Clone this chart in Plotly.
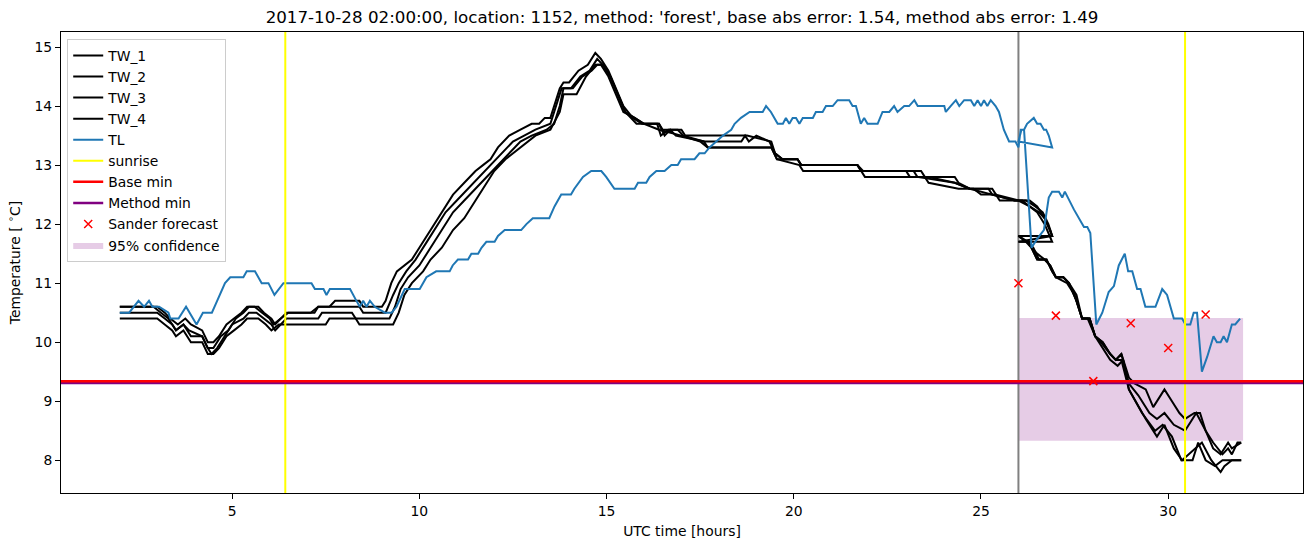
import plotly.graph_objects as go

# ---------------- data ----------------
TITLE = "2017-10-28 02:00:00, location: 1152, method: 'forest', base abs error: 1.54, method abs error: 1.49"

tw1_t = [2.0, 3.0, 3.2, 3.35, 3.55, 3.75, 3.9, 4.2, 4.35, 4.5, 4.65, 4.85, 5.05, 5.25, 5.4, 5.7, 5.85, 6.05, 6.15, 6.3, 6.5, 7.1, 7.3, 7.6, 7.75, 8.4, 8.5, 9.0, 9.1,
         9.25, 9.4, 9.6, 9.8, 10.0, 10.3, 10.5, 10.7, 10.9, 11.2, 11.5, 11.7, 11.9, 12.1, 12.4, 12.7, 13.0, 13.2, 13.35, 13.5, 13.6, 13.75, 13.85, 14.0, 14.25, 14.5, 14.7,
         14.85, 15.05, 15.25, 15.45, 15.7, 15.95, 16.4, 16.5, 17.0, 17.1, 18.6, 18.75, 19.4, 19.5, 19.7, 20.1, 20.2, 21.7, 21.8, 23.4, 23.5, 24.3, 24.4, 24.7, 25.3, 25.4,
         26.0, 26.3, 26.5, 26.7, 26.85, 26.9,
         26.0, 26.25, 26.35, 26.5, 26.7, 26.85, 27.0, 27.2, 27.35, 27.55, 27.7, 27.9, 28.05, 28.25, 28.45, 28.6, 28.75, 28.95, 29.1, 29.4, 29.6, 29.9, 30.1, 30.3,
         30.45, 30.7, 30.85, 31.0, 31.2, 31.45, 31.6, 31.7, 31.85, 31.95]
tw1_v = [10.6, 10.6, 10.5, 10.4, 10.3, 10.4, 10.3, 10.2, 10.0, 10.0, 10.1, 10.3, 10.4, 10.5, 10.6, 10.6, 10.5, 10.4, 10.3, 10.4, 10.5, 10.5, 10.6, 10.6, 10.7, 10.7, 10.6, 10.6, 10.7,
         11.0, 11.2, 11.3, 11.4, 11.6, 11.9, 12.1, 12.3, 12.5, 12.7, 12.9, 13.0, 13.1, 13.3, 13.5, 13.6, 13.7, 13.7, 13.8, 13.8, 14.0, 14.3, 14.4, 14.4, 14.6, 14.7, 14.9,
         14.8, 14.6, 14.3, 14.0, 13.8, 13.7, 13.7, 13.6, 13.6, 13.5, 13.5, 13.5, 13.4, 13.2, 13.1, 13.1, 13.0, 13.0, 12.9, 12.9, 12.8, 12.8, 12.7, 12.6, 12.6, 12.5,
         12.4, 12.4, 12.3, 12.1, 11.9, 11.8,
         11.8, 11.7, 11.6, 11.5, 11.4, 11.3, 11.1, 11.1, 11.0, 10.8, 10.4, 10.4, 10.1, 10.0, 9.8, 9.7, 9.8, 9.4, 9.3, 9.2, 8.9, 9.2, 9.0, 8.8,
         8.7, 8.8, 8.8, 8.5, 8.3, 8.1, 8.2, 8.1, 8.3, 8.3]

tw2_t = [2.0, 2.9, 3.1, 3.3, 3.5, 3.7, 3.85, 4.2, 4.35, 4.5, 4.7, 4.9, 5.1, 5.3, 5.45, 5.6, 5.8, 6.0, 6.1, 6.3, 6.45, 7.2, 7.3, 8.4, 8.5, 9.1,
         9.3, 9.45, 9.65, 9.9, 10.2, 10.5, 10.7, 11.0, 11.3, 11.6, 11.9, 12.2, 12.5, 12.8, 13.1, 13.5, 13.65, 13.8, 14.05, 14.3, 14.55, 14.75,
         14.9, 15.1, 15.3, 15.5, 15.75, 16.0, 16.35, 16.45, 16.65, 16.9, 17.05, 17.6, 18.6, 18.7, 18.8, 19.0, 19.35, 19.5, 19.7, 20.1, 20.2, 21.7, 21.85,
         23.0, 23.1, 23.6, 24.3, 24.7, 25.3, 25.9, 26.2, 26.45, 26.65, 26.8, 26.9,
         26.0, 26.2, 26.35, 26.5, 26.75, 26.9, 27.0, 27.3, 27.5, 27.7, 27.85, 28.05, 28.2, 28.45, 28.6, 28.75, 28.95, 29.2, 29.5, 29.7, 29.9, 30.15,
         30.45, 30.75, 31.0, 31.2, 31.4, 31.6, 31.7, 31.95]
tw2_v = [10.6, 10.6, 10.5, 10.4, 10.2, 10.3, 10.2, 10.1, 9.9, 9.9, 10.1, 10.2, 10.4, 10.5, 10.6, 10.6, 10.5, 10.4, 10.3, 10.4, 10.5, 10.5, 10.6, 10.6, 10.5, 10.5,
         10.8, 11.0, 11.2, 11.4, 11.7, 12.0, 12.2, 12.4, 12.6, 12.8, 13.0, 13.2, 13.4, 13.5, 13.6, 13.7, 14.0, 14.3, 14.3, 14.5, 14.6, 14.8,
         14.7, 14.5, 14.2, 13.9, 13.8, 13.7, 13.7, 13.5, 13.6, 13.6, 13.5, 13.4, 13.4, 13.5, 13.4, 13.5, 13.4, 13.2, 13.1, 13.1, 13.0, 13.0, 12.9,
         12.9, 12.8, 12.8, 12.7, 12.6, 12.5, 12.4, 12.4, 12.3, 12.2, 12.0, 11.8,
         11.8, 11.7, 11.6, 11.4, 11.4, 11.2, 11.1, 11.0, 10.8, 10.4, 10.4, 10.1, 10.0, 9.8, 9.7, 9.8, 9.3, 9.1, 8.8, 8.7, 8.8, 8.6,
         8.5, 8.8, 8.5, 8.2, 8.1, 8.3, 8.2, 8.3]

tw3_t = [2.0, 3.0, 3.2, 3.4, 3.5, 3.7, 3.9, 4.2, 4.35, 4.45, 4.6, 4.8, 5.0, 5.3, 5.45, 5.65, 5.85, 6.05, 6.15, 6.3, 6.45, 7.3, 7.4, 8.2, 8.3, 9.2,
         9.35, 9.5, 9.7, 10.0, 10.3, 10.6, 10.9, 11.2, 11.5, 11.8, 12.1, 12.4, 12.7, 13.0, 13.4, 13.6, 13.75, 13.85, 14.1, 14.35, 14.6, 14.75,
         14.9, 15.1, 15.3, 15.5, 15.8, 16.0, 16.4, 17.0, 17.5, 17.7, 19.4, 19.55, 20.15, 20.25, 21.8, 21.9, 23.5, 23.6, 24.4, 24.8, 25.0, 25.4, 25.5,
         26.0, 26.3, 26.5, 26.7, 26.9,
         26.0, 26.25, 26.4, 26.55, 26.75, 26.9, 27.0, 27.2, 27.35, 27.55, 27.7, 27.9, 28.05, 28.25, 28.45, 28.65, 28.8, 28.95, 29.3, 29.65, 29.85,
         30.1, 30.35, 30.65, 30.8, 31.0, 31.25, 31.45, 31.95]
tw3_v = [10.5, 10.5, 10.4, 10.3, 10.2, 10.3, 10.1, 10.1, 9.9, 9.8, 9.9, 10.1, 10.3, 10.4, 10.5, 10.5, 10.4, 10.3, 10.2, 10.3, 10.4, 10.4, 10.5, 10.5, 10.4, 10.4,
         10.6, 10.9, 11.1, 11.3, 11.6, 11.9, 12.2, 12.4, 12.6, 12.8, 13.0, 13.2, 13.4, 13.5, 13.6, 13.7, 14.0, 14.3, 14.3, 14.5, 14.6, 14.7,
         14.7, 14.5, 14.2, 13.9, 13.7, 13.7, 13.6, 13.5, 13.4, 13.3, 13.3, 13.1, 13.0, 12.9, 12.9, 12.8, 12.8, 12.7, 12.6, 12.6, 12.5, 12.5, 12.4,
         12.4, 12.3, 12.2, 12.0, 11.7,
         11.7, 11.7, 11.6, 11.4, 11.4, 11.2, 11.1, 11.1, 11.0, 10.7, 10.4, 10.4, 10.1, 9.9, 9.7, 9.6, 9.7, 9.2, 8.8, 8.5, 8.6,
         8.4, 8.0, 8.0, 8.3, 8.0, 7.9, 8.0, 8.0]

tw4_t = [2.0, 3.0, 3.2, 3.4, 3.5, 3.7, 3.9, 4.2, 4.35, 4.5, 4.65, 4.85, 5.05, 5.25, 5.4, 5.7, 5.9, 6.05, 6.25, 6.4, 7.5, 7.6, 8.3, 8.4, 9.3,
         9.45, 9.6, 9.8, 10.1, 10.3, 10.6, 10.9, 11.2, 11.5, 11.8, 12.0, 12.3, 12.7, 13.1, 13.5, 13.75, 13.85, 14.2, 14.45, 14.7,
         14.85, 15.05, 15.25, 15.45, 15.75, 16.0, 16.4, 16.55, 16.7, 16.85, 17.6, 17.7, 19.4, 19.55, 20.1, 20.2, 21.7, 21.8, 23.2, 23.3, 24.3, 24.7,
         25.2, 25.3, 25.9, 26.1, 26.3, 26.55, 26.7, 26.9,
         26.0, 26.25, 26.35, 26.5, 26.7, 26.85, 27.0, 27.2, 27.35, 27.55, 27.7, 27.9, 28.05, 28.25, 28.45, 28.6, 28.75, 28.95, 29.4, 29.7, 29.9,
         30.15, 30.37, 30.55, 30.9, 31.15, 31.4, 31.5, 31.7, 31.95]
tw4_v = [10.4, 10.4, 10.3, 10.2, 10.1, 10.2, 10.0, 10.0, 9.8, 9.8, 9.9, 10.1, 10.2, 10.3, 10.4, 10.4, 10.3, 10.2, 10.3, 10.3, 10.3, 10.4, 10.4, 10.3, 10.3,
         10.5, 10.8, 11.0, 11.2, 11.4, 11.6, 11.9, 12.1, 12.4, 12.7, 12.9, 13.1, 13.3, 13.5, 13.6, 13.9, 14.2, 14.2, 14.5, 14.7,
         14.7, 14.5, 14.2, 13.9, 13.8, 13.7, 13.7, 13.5, 13.6, 13.5, 13.4, 13.3, 13.3, 13.1, 13.1, 13.0, 13.0, 12.9, 12.9, 12.8, 12.7, 12.6,
         12.6, 12.5, 12.4, 12.4, 12.3, 12.2, 12.1, 11.8,
         11.7, 11.7, 11.6, 11.4, 11.4, 11.3, 11.1, 11.1, 11.0, 10.7, 10.4, 10.4, 10.1, 10.0, 9.8, 9.7, 9.7, 9.2, 8.7, 8.4, 8.6,
         8.2, 8.0, 8.1, 8.3, 8.0, 7.8, 7.9, 8.0, 8.0]

tl_t = [2.0, 2.25, 2.5, 2.65, 2.78, 2.87, 3.05, 3.3, 3.35, 3.57, 3.77, 4.05, 4.22, 4.46, 4.6, 4.81, 4.95, 5.3, 5.39, 5.61, 5.79, 5.97, 6.13, 6.24, 6.37,
        7.12, 7.21, 7.44, 7.52, 7.61, 8.15, 8.32, 8.41, 8.5, 8.59, 8.68, 8.81, 9.08, 9.26, 9.39, 9.61, 10.01, 10.19, 10.45, 10.81, 10.89, 11.03, 11.3,
        11.39, 11.57, 11.66, 11.79, 12.01, 12.1, 12.28, 12.72, 12.86, 13.03, 13.47, 13.61, 13.79, 14.05, 14.14, 14.37, 14.59, 14.86, 14.99, 15.21,
        15.75, 15.84, 16.06, 16.15, 16.33, 16.55, 16.73, 16.9, 16.99, 17.35, 17.48, 17.62, 17.75, 17.93, 18.11, 18.33, 18.42, 18.59, 18.82, 19.17,
        19.26, 19.39, 19.57, 19.71, 19.79, 19.88, 19.97, 20.06, 20.15, 20.24, 20.51, 20.59, 20.77, 20.86, 21.04, 21.17, 21.48, 21.57, 21.66, 21.79,
        21.88, 21.97, 22.24, 22.37, 22.55, 22.68, 22.77, 22.95, 23.08, 23.22, 23.31, 24.02, 24.06, 24.19, 24.33, 24.42, 24.55, 24.73, 24.82, 24.91,
        25.0, 25.08, 25.17, 25.26, 25.39, 25.48, 25.61, 25.75, 25.92, 26.0, 26.06, 26.15, 26.23, 26.41, 26.5, 26.59, 26.68, 26.74, 26.81, 26.9,
        26.0, 26.08, 26.15, 26.35, 26.5, 26.68, 26.81, 26.9, 27.08, 27.17, 27.24, 27.48, 27.75, 27.84, 27.92, 28.08, 28.24, 28.41, 28.55, 28.68,
        28.84, 28.93, 29.04, 29.17, 29.26, 29.39, 29.66, 29.84, 29.97, 30.15, 30.37, 30.46, 30.59, 30.68, 30.77, 30.9, 31.04, 31.21, 31.3, 31.4,
        31.48, 31.57, 31.7, 31.79, 31.92]
tl_v = [10.5, 10.5, 10.7, 10.6, 10.7, 10.6, 10.6, 10.5, 10.4, 10.4, 10.6, 10.3, 10.5, 10.5, 10.7, 11.0, 11.1, 11.1, 11.2, 11.2, 11.0, 11.0, 10.8, 10.9, 11.0,
        11.0, 10.9, 10.9, 10.8, 10.9, 10.9, 10.7, 10.6, 10.7, 10.6, 10.7, 10.6, 10.5, 10.5, 10.6, 10.9, 10.9, 11.1, 11.2, 11.2, 11.3, 11.4, 11.4,
        11.5, 11.5, 11.6, 11.7, 11.7, 11.8, 11.9, 11.9, 12.0, 12.1, 12.1, 12.3, 12.5, 12.5, 12.6, 12.8, 12.9, 12.9, 12.8, 12.6,
        12.6, 12.7, 12.7, 12.8, 12.9, 12.9, 13.0, 13.0, 13.1, 13.1, 13.2, 13.2, 13.3, 13.4, 13.5, 13.6, 13.7, 13.8, 13.9, 13.9,
        14.0, 13.9, 13.7, 13.7, 13.8, 13.7, 13.8, 13.8, 13.7, 13.8, 13.8, 13.9, 13.9, 14.0, 14.0, 14.1, 14.1, 14.0, 14.0, 13.7,
        13.8, 13.7, 13.7, 13.9, 13.9, 14.0, 13.9, 14.0, 14.0, 14.1, 14.0, 14.0, 13.9, 14.0, 14.1, 14.0, 14.1, 14.1, 14.0, 14.1,
        14.0, 14.1, 14.0, 14.1, 14.0, 13.9, 13.6, 13.4, 13.4, 13.3, 13.6, 13.6, 13.7, 13.8, 13.7, 13.7, 13.6, 13.6, 13.5, 13.3,
        13.4, 13.6, 13.6, 11.6, 11.75, 11.9, 12.45, 12.55, 12.55, 12.45, 12.55, 12.25, 11.95, 11.95, 11.85, 10.3, 10.5, 10.85, 10.95, 11.3,
        11.5, 11.2, 11.2, 10.9, 10.9, 10.6, 10.6, 10.9, 10.8, 10.4, 10.4, 10.3, 10.3, 10.5, 10.5, 9.5, 9.75, 10.1, 10.0, 10.0,
        10.1, 10.0, 10.3, 10.3, 10.4]

sunrise_hours = [6.42, 30.45]
forecast_hour = 26.0
base_min = 9.34
method_min = 9.31
sander_t = [26, 27, 28, 29, 30, 31]
sander_v = [11.0, 10.45, 9.34, 10.32, 9.9, 10.47]
conf_t = [26.0, 32.0]
conf_lo = 8.33
conf_hi = 10.41

X_RANGE = [0.43, 33.6]

# ---------------- figure ----------------
all_v = tw1_v + tw2_v + tw3_v + tw4_v + tl_v
vmin, vmax = min(all_v), max(all_v)
pad = 0.05 * (vmax - vmin)
Y_RANGE = [vmin - pad, vmax + pad]

FONT = "DejaVu Sans"
FS = 13.9
fig = go.Figure()

# confidence band (drawn first, listed last)
fig.add_trace(go.Scatter(
    x=[conf_t[0], conf_t[1], conf_t[1], conf_t[0], conf_t[0]],
    y=[conf_lo, conf_lo, conf_hi, conf_hi, conf_lo],
    fill="toself", fillcolor="rgba(128,0,128,0.2)", line=dict(width=0),
    mode="lines", name="95% confidence", legendrank=10, hoverinfo="skip"))

# gray forecast-time line
fig.add_trace(go.Scatter(x=[forecast_hour, forecast_hour], y=Y_RANGE, mode="lines",
                         line=dict(color="gray", width=2), showlegend=False))

for i, (t, v) in enumerate([(tw1_t, tw1_v), (tw2_t, tw2_v), (tw3_t, tw3_v), (tw4_t, tw4_v)]):
    fig.add_trace(go.Scatter(x=t, y=v, mode="lines", name=f"TW_{i+1}",
                             line=dict(color="black", width=2), legendrank=1 + i * 0.01))

fig.add_trace(go.Scatter(x=tl_t, y=tl_v, mode="lines", name="TL",
                         line=dict(color="#1f77b4", width=2), legendrank=2))

sx, sy = [], []
for s in sunrise_hours:
    sx += [s, s, None]
    sy += [Y_RANGE[0], Y_RANGE[1], None]
fig.add_trace(go.Scatter(x=sx, y=sy, mode="lines", name="sunrise",
                         line=dict(color="yellow", width=2), legendrank=3))

fig.add_trace(go.Scatter(x=X_RANGE, y=[method_min, method_min], mode="lines", name="Method min",
                         line=dict(color="purple", width=2.5), legendrank=5))
fig.add_trace(go.Scatter(x=X_RANGE, y=[base_min, base_min], mode="lines", name="Base min",
                         line=dict(color="red", width=2.5), legendrank=4))

fig.add_trace(go.Scatter(x=sander_t, y=sander_v, mode="markers", name="Sander forecast",
                         marker=dict(symbol="x-thin", size=8, color="red",
                                     line=dict(color="red", width=1.5)), legendrank=6))

fig.update_layout(
    width=1311, height=547,
    margin=dict(l=61, r=8, t=32, b=54),
    paper_bgcolor="white", plot_bgcolor="white",
    font=dict(family=FONT, size=FS, color="black"),
    title=dict(text=TITLE, x=0.5, xref="paper", xanchor="center",
               y=1 - 17 / 547, yref="container", yanchor="middle",
               font=dict(size=16.7, family=FONT, color="black")),
    showlegend=True,
    legend=dict(x=0.005, y=0.985, xanchor="left", yanchor="top",
                bgcolor="rgba(255,255,255,0.8)", bordercolor="#cccccc", borderwidth=1,
                font=dict(size=FS, family=FONT), itemwidth=30, tracegroupgap=0,
                traceorder="normal"),
)
fig.update_xaxes(range=X_RANGE, showgrid=False, zeroline=False,
                 showline=True, linecolor="black", linewidth=1, mirror=True,
                 ticks="outside", ticklen=5, tickwidth=1, tickcolor="black",
                 tickvals=[5, 10, 15, 20, 25, 30], tickfont=dict(size=FS, family=FONT),
                 title=dict(text="UTC time [hours]", standoff=8,
                            font=dict(size=FS, family=FONT, color="black")))
fig.update_yaxes(range=Y_RANGE, showgrid=False, zeroline=False,
                 showline=True, linecolor="black", linewidth=1, mirror=True,
                 ticks="outside", ticklen=5, tickwidth=1, tickcolor="black",
                 tickvals=[8, 9, 10, 11, 12, 13, 14, 15], tickfont=dict(size=FS, family=FONT),
                 title=dict(text="Temperature [ <sup>∘</sup>C]", standoff=10,
                            font=dict(size=FS, family=FONT, color="black")))

fig.write_html("out.html")
